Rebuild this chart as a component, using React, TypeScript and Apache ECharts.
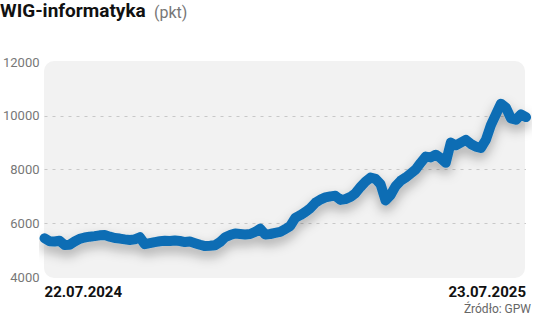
import React, { useEffect, useRef } from "react";
import * as echarts from "echarts";

const titleMain = "WIG-informatyka";
const titleUnit = "(pkt)";
const source = "Źródło: GPW";
const dateLabels = ["22.07.2024", "23.07.2025"];
const yTicks = [4000, 6000, 8000, 10000, 12000];
const values = [
  5440, 5330, 5320, 5350, 5190, 5200, 5320, 5420, 5470, 5500,
  5520, 5550, 5560, 5500, 5450, 5430, 5400, 5380, 5400, 5480,
  5220, 5260, 5300, 5330, 5350, 5340, 5360, 5340, 5300, 5320,
  5260, 5200, 5150, 5160, 5180, 5300, 5480, 5560, 5620, 5600,
  5580, 5600, 5680, 5800, 5580, 5600, 5640, 5680, 5780, 5900,
  6200, 6300, 6420, 6560, 6760, 6880, 6960, 7000, 7020, 6870,
  6900, 6980, 7120, 7350, 7550, 7700, 7650, 7450, 6850, 7050,
  7380, 7580, 7700, 7850, 8000, 8250, 8480, 8450, 8550, 8420,
  8250, 9000, 8900, 9000, 9100, 8950, 8850, 8800, 9100, 9650,
  10050, 10450, 10300, 9900, 9850, 10050, 9950,
];

export default function App() {
  const ref = useRef<HTMLDivElement>(null);
  useEffect(() => {
    const chart = echarts.init(ref.current!, null, { renderer: "svg" });
    const n = values.length;
    chart.setOption({
      animation: false,
      textStyle: { fontFamily: "Roboto" },
      graphic: [
        {
          type: "rect",
          left: 44,
          top: 61,
          shape: { width: 481, height: 217, r: 10 },
          style: { fill: "#f2f2f2" },
          z: -10,
          silent: true,
        },
        {
          type: "text",
          left: 0,
          top: 1,
          style: {
            text: titleMain,
            font: "bold 19px Roboto",
            fill: "#111",
          },
        },
        {
          type: "text",
          left: 154,
          top: 4,
          style: {
            text: titleUnit,
            font: "16px Roboto",
            fill: "#777",
          },
        },
        {
          type: "text",
          right: 5,
          top: 303,
          style: {
            text: source,
            font: "12px Roboto",
            fill: "#666",
          },
        },
      ],
      grid: { left: 44, right: 10, top: 62, bottom: 40 },
      xAxis: {
        type: "value",
        min: 0,
        max: n - 1,
        interval: n - 1,
        axisLine: { show: false },
        axisTick: { show: false },
        splitLine: { show: false },
        axisLabel: {
          margin: 7,
          fontSize: 15,
          fontWeight: "bold",
          color: "#111",
          fontFamily: "Roboto",
          alignMinLabel: "left",
          alignMaxLabel: "right",
          formatter: (v: number) => (v === 0 ? dateLabels[0] : dateLabels[1]),
        },
      },
      yAxis: {
        type: "value",
        min: yTicks[0],
        max: yTicks[yTicks.length - 1],
        interval: 2000,
        axisLine: { show: false },
        axisTick: { show: false },
        axisLabel: {
          margin: 5,
          fontSize: 13,
          color: "#777",
          fontFamily: "Roboto",
          formatter: (v: number) => String(v),
        },
        splitLine: {
          show: true,
          lineStyle: {
            color: ["transparent", "#c8c8c8", "#c8c8c8", "#c8c8c8", "transparent"],
            type: [3, 5],
            width: 1,
          },
        },
      },
      series: [
        {
          type: "line",
          data: values.map((v, i) => [i, v]),
          symbol: "none",
          lineStyle: {
            color: "#0d6db4",
            width: 10,
            cap: "round",
            join: "round",
            shadowColor: "rgba(0,0,0,0.3)",
            shadowBlur: 12,
            shadowOffsetY: 6,
          },
        },
      ],
    });
    return () => chart.dispose();
  }, []);
  return <div ref={ref} style={{ width: 536, height: 317, position: "absolute", left: 0, top: 0, background: "#fff" }} />;
}
